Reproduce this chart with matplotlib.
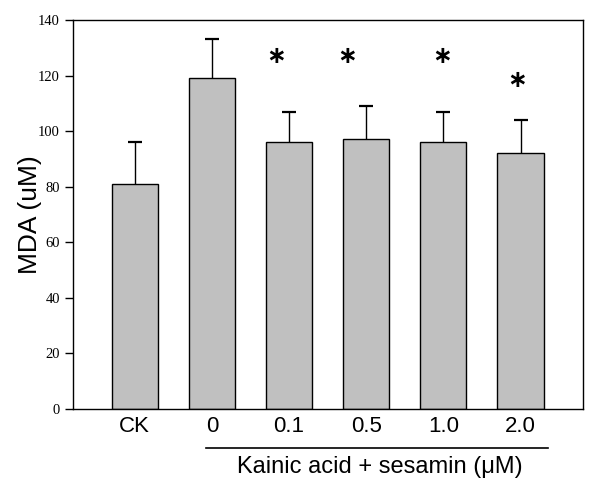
import numpy as np
import matplotlib
matplotlib.use("Agg")
import matplotlib.pyplot as plt

groups = ["CK", "0", "0.1", "0.5", "1.0", "2.0"]
mda = [81, 119, 96, 97, 96, 92]
mda_err = [15, 14, 11, 12, 11, 12]
# significance marks, positions (x in bar units)
star_x = [1.83, 2.75, 3.99, 4.95]
star_y = [127, 127, 127, 118.5]

fig = plt.figure(figsize=(6, 4.87), dpi=100)
ax = fig.add_axes([73/600, 1 - 409/487, 510/600, 389/487])

x = np.arange(len(groups))
tops = np.array(mda) + np.array(mda_err)
ax.bar(x, mda, width=0.6, color="#c0c0c0", edgecolor="black", linewidth=1, zorder=2)
# upper error bars only
ax.vlines(x, mda, tops, color="black", linewidth=1, zorder=1)
ax.plot(x, tops, linestyle="none", marker="_", markersize=9.5, mew=1.6, color="black", zorder=1)

for sx, sy in zip(star_x, star_y):
    ax.text(sx, sy, "\u2217", ha="center", va="center",
            fontsize=17, fontweight="bold", family="DejaVu Sans")

ax.set_xlim(-0.8, 5.81)
ax.set_ylim(0, 140)
ax.set_yticks(np.arange(0, 141, 20))
ax.set_yticklabels([str(v) for v in range(0, 141, 20)], family="Liberation Serif", fontsize=10.5)
ax.tick_params(axis="y", direction="out", length=6, width=1)
ax.set_xticks(x)
ax.set_xticklabels(groups, family="Liberation Sans", fontsize=16)
ax.tick_params(axis="x", length=0, pad=5)
for s in ax.spines.values():
    s.set_linewidth(1)

ax.set_ylabel("MDA (uM)", family="Liberation Sans", fontsize=19, labelpad=-3)

# group line and label under the treated bars
fig.add_artist(plt.Line2D([206/600, 548/600], [1 - 448/487, 1 - 448/487],
                          color="black", linewidth=1.2))
fig.text(380/600, 1 - 467/487, "Kainic acid + sesamin (\u03bcM)", ha="center", va="center",
         family="Liberation Sans", fontsize=17)

fig.savefig("out.png", dpi=100)
